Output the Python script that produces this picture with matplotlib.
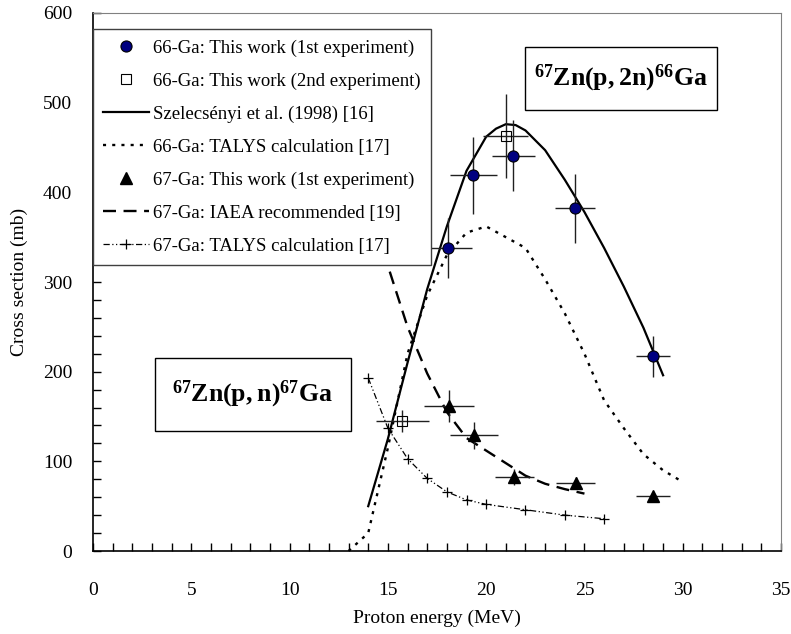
import numpy as np
import matplotlib
matplotlib.use('Agg')
import matplotlib.pyplot as plt
from matplotlib.patches import Rectangle

plt.rcParams['font.family'] = ['Liberation Serif', 'DejaVu Serif']
plt.rcParams['mathtext.fontset'] = 'custom'
plt.rcParams['mathtext.rm'] = 'Liberation Serif'
plt.rcParams['mathtext.bf'] = 'Liberation Serif:bold'

# 66-Ga: this work (1st experiment)
ga66_e = [18.07, 19.34, 21.38, 24.52, 28.47]
ga66_de = [1.2, 1.2, 1.1, 1.0, 0.87]
ga66_cs = [338, 419, 441, 382, 217]
ga66_dcs = [33, 43, 40, 38, 23]

# 66-Ga: this work (2nd experiment)
ga66b_e = [15.73, 20.99]
ga66b_de = [1.35, 1.15]
ga66b_cs = [145, 463]
ga66b_dcs = [12, 47]

# 67-Ga: this work (1st experiment)
ga67_e = [18.11, 19.38, 21.43, 24.55, 28.48]
ga67_de = [1.25, 1.2, 1.0, 1.0, 0.85]
ga67_cs = [162, 129, 83, 76, 61]
ga67_dcs = [18, 15, 9, 7, 4]

# Szelecsenyi et al. (1998)
sz_e = [14, 15, 16, 17, 18, 19, 20, 20.5, 21, 21.5, 22, 23, 24, 25, 26, 27, 28, 29]
sz_cs = [50, 125, 210, 292, 362, 424, 462, 471, 476, 475, 469, 447, 414, 378, 338, 295, 249, 196]

# 66-Ga TALYS
t66_e = [13, 14, 15, 16, 17, 18, 19, 20, 21, 22, 23, 24, 25, 26, 27, 28, 29, 30]
t66_cs = [0, 20, 115, 220, 285, 330, 355, 362, 350, 338, 303, 265, 220, 168, 137, 108, 90, 77]

# 67-Ga IAEA recommended
iaea_e = [14, 15, 16, 17, 18, 19, 20, 21, 22, 23, 24, 25]
iaea_cs = [400, 318, 250, 198, 155, 126, 112, 98, 84, 75, 69, 64]

# 67-Ga TALYS
t67_e = [14, 15, 16, 17, 18, 19, 20, 22, 24, 26]
t67_cs = [193, 137, 103, 81, 66, 57, 52, 46, 40, 36]

fig = plt.figure(figsize=(7.91, 6.34), dpi=100)
ax = fig.add_axes([0.1176, 0.1309, 0.8698, 0.8486])

# curves
l_sz, = ax.plot(sz_e, sz_cs, color='black', lw=1.6, label='Szelecsényi et al. (1998) [16]')
l_t66, = ax.plot(t66_e, t66_cs, color='black', lw=1.7, dashes=(1.3, 2.6),
                 label='66-Ga: TALYS calculation [17]')
l_iaea, = ax.plot(iaea_e, iaea_cs, color='black', lw=1.7, dashes=(5.5, 3.2),
                  label='67-Ga: IAEA recommended [19]')
l_t67, = ax.plot(t67_e, t67_cs, color='black', lw=0.9, dashes=(5, 2, 1, 2, 1, 2),
                 marker='+', ms=7, mew=0.9, label='67-Ga: TALYS calculation [17]')

# error bars
eb = dict(fmt='none', ecolor='#202020', elinewidth=1.0, capsize=0, zorder=3)
ax.errorbar(ga66_e, ga66_cs, xerr=ga66_de, yerr=ga66_dcs, **eb)
ax.errorbar(ga66b_e, ga66b_cs, xerr=ga66b_de, yerr=ga66b_dcs, **eb)
ax.errorbar(ga67_e, ga67_cs, xerr=ga67_de, yerr=ga67_dcs, **eb)

# markers
m66, = ax.plot(ga66_e, ga66_cs, 'o', ms=8, mfc='#000080', mec='black', mew=0.8,
               zorder=4, label='66-Ga: This work (1st experiment)')
m66b, = ax.plot(ga66b_e, ga66b_cs, 's', ms=7.5, mfc='none', mec='black', mew=0.8,
                zorder=4, label='66-Ga: This work (2nd experiment)')
m67, = ax.plot(ga67_e, ga67_cs, '^', ms=9, mfc='black', mec='black',
               zorder=4, label='67-Ga: This work (1st experiment)')

ax.set_xlim(0, 35)
ax.set_ylim(0, 600)
ax.set_xticks(np.arange(0, 36, 5))
ax.set_xticks(np.arange(0, 36, 1), minor=True)
ax.set_yticks(np.arange(0, 601, 100))
ax.set_yticks(np.arange(0, 601, 20), minor=True)
ax.tick_params(which='both', direction='in', length=6, width=1, labelsize=14)
ax.tick_params(axis='x', which='both', pad=22)
ax.tick_params(axis='y', which='both', pad=15)
ax.tick_params(which='both', top=False, right=False)
for s in ['top', 'right']:
    ax.spines[s].set_color('#808080')
for s in ['left', 'bottom']:
    ax.spines[s].set_color('black')
    ax.spines[s].set_linewidth(1.2)

ax.set_xlabel('Proton energy (MeV)', fontsize=14, labelpad=8)
ax.set_ylabel('Cross section (mb)', fontsize=14, labelpad=11)

handles = [m66, m66b, l_sz, l_t66, m67, l_iaea, l_t67]
leg = ax.legend(handles=handles, loc='upper left', bbox_to_anchor=(0, 0.97),
                borderaxespad=0, fontsize=13.5, frameon=True, fancybox=False,
                framealpha=1, handlelength=2.45, handletextpad=0.2,
                labelspacing=0.84, borderpad=0.55)
leg.get_frame().set_edgecolor('#404040')
leg.get_frame().set_linewidth(1.0)
leg.set_zorder(5)

# reaction labels
boxes = [
    ((0.628, 0.820), 0.279, 0.117, r'$\mathbf{{}^{67}Zn(p,2n)^{66}Ga}$'),
    ((0.090, 0.223), 0.285, 0.136, r'$\mathbf{{}^{67}Zn(p,n)^{67}Ga}$'),
]
for (bx, by), bw, bh, txt in boxes:
    ax.add_patch(Rectangle((bx, by), bw, bh, transform=ax.transAxes, facecolor='white',
                           edgecolor='black', lw=1.0, zorder=5))
    ax.text(bx + bw / 2, by + bh / 2, txt, transform=ax.transAxes, ha='center',
            va='center', fontsize=18.5, zorder=6)

fig.savefig('out.png', dpi=100)
